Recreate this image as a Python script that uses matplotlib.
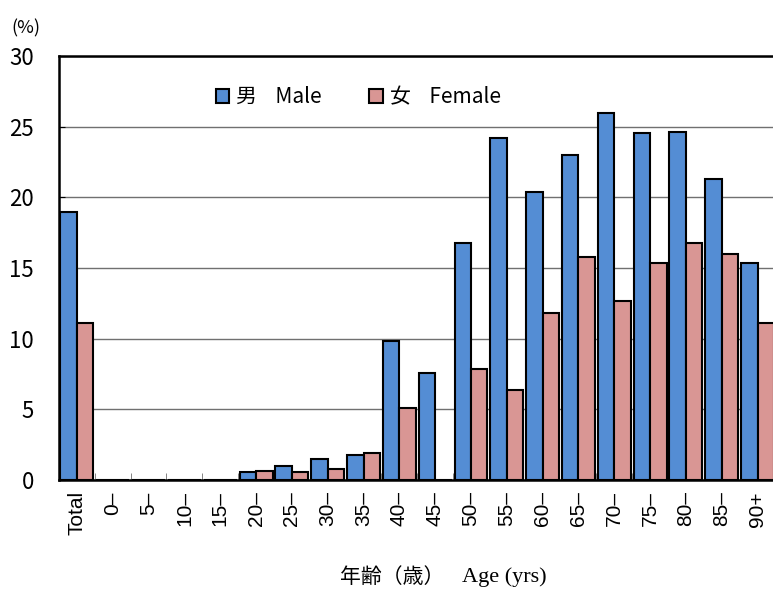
import matplotlib
matplotlib.use('Agg')
import matplotlib.pyplot as plt
import numpy as np

plt.rcParams['font.family'] = ['Noto Sans CJK JP', 'DejaVu Sans']

# age groups and percentages
ages = ['Total', '0–', '5–', '10–', '15–', '20–', '25–', '30–', '35–', '40–',
        '45–', '50–', '55–', '60–', '65–', '70–', '75–', '80–', '85–', '90+']
male = [19.0, 0, 0, 0, 0, 0.55, 0.97, 1.51, 1.75, 9.84,
        7.58, 16.8, 24.2, 20.35, 23.0, 26.0, 24.55, 24.65, 21.3, 15.35]
female = [11.1, 0, 0, 0, 0, 0.66, 0.55, 0.76, 1.89, 5.1,
          0, 7.85, 6.37, 11.8, 15.8, 12.7, 15.35, 16.8, 16.0, 11.12]

blue = '#548DD4'
pink = '#D99694'

fig = plt.figure(figsize=(7.73, 5.90), dpi=100)
ax = fig.add_axes([0.0763, 0.1864, 0.927, 0.7186])

x = np.arange(len(ages))
w = 0.46
ax.bar(x - w / 2, male, w, color=blue, edgecolor='black', linewidth=1.5,
       label='男    Male', zorder=3)
ax.bar(x + w / 2, female, w, color=pink, edgecolor='black', linewidth=1.5,
       label='女    Female', zorder=3)

ax.set_xlim(-0.5, len(ages) - 0.5)
ax.set_ylim(0, 30)
ax.set_yticks(range(0, 31, 5))
ax.yaxis.grid(True, color='#707070', linewidth=1.0, zorder=0)
ax.tick_params(axis='y', direction='in', length=4, labelsize=16, pad=18)

ax.set_xticks(x)
ax.set_xticklabels(ages, rotation=90, fontsize=15, family='Liberation Sans')
ax.set_xticks(x[:-1] + 0.5, minor=True)
ax.tick_params(axis='x', which='major', length=0, pad=8)
ax.tick_params(axis='x', which='minor', direction='in', length=5,
               color='#707070')

for s in ['left', 'bottom', 'top']:
    ax.spines[s].set_linewidth(1.8)
ax.spines['right'].set_visible(False)

ax.legend(loc='center left', bbox_to_anchor=(0.207, 0.903), ncol=2,
          frameon=False, fontsize=15, handlelength=0.65, handleheight=0.65,
          handletextpad=0.35, columnspacing=2.25, borderaxespad=0)

fig.text(0.015, 0.944, '(%)', fontsize=13, ha='left', va='baseline')
fig.text(0.575, 0.022, '年齢（歳）', fontsize=15, ha='right', va='center')
fig.text(0.598, 0.022, 'Age (yrs)', fontsize=16, ha='left', va='center',
         family='Liberation Serif')

fig.savefig('out.png', dpi=100)
